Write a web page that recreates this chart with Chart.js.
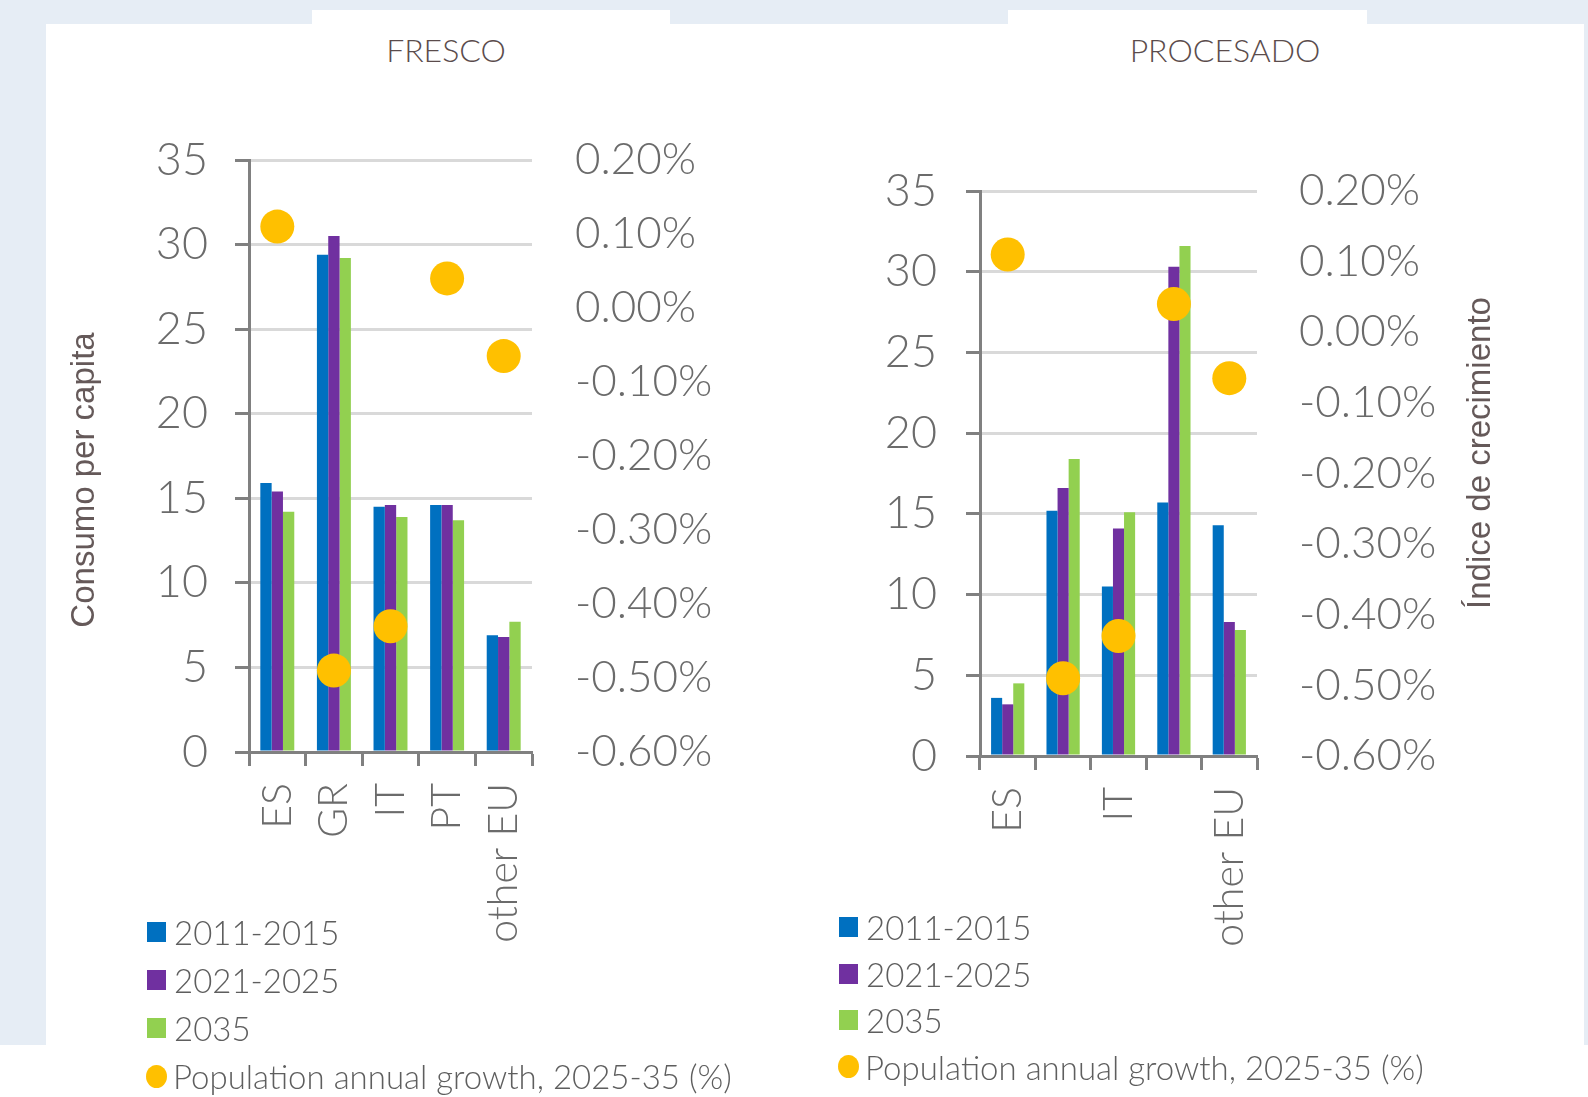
<!DOCTYPE html>
<html>
<head>
<meta charset="utf-8">
<script src="https://cdn.jsdelivr.net/npm/chart.js@4.4.0/dist/chart.umd.min.js"></script>
<style>
  body { margin: 0; width: 1588px; height: 1097px; background: #e6edf5; overflow: hidden; position: relative; font-family: Lato, sans-serif; }
  .white { position: absolute; background: #fff; }
  canvas { position: absolute; top: 0; }
  .chart-title { position: absolute; top: 30px; font: 300 32px Lato, sans-serif; color: #5b4c4c; transform: translateX(-50%); white-space: nowrap; }
  .legend { position: absolute; font: 300 33px Lato, sans-serif; color: #5e5e5e; }
  .legend-item { display: flex; align-items: center; white-space: nowrap; }
  .legend-box { width: 19px; height: 20px; margin-right: 8px; }
  .legend-dot { width: 21px; height: 23px; border-radius: 50%; margin-right: 6px; margin-left: -1px; }
</style>
</head>
<body>
<div class="white" style="left:46px;top:24px;width:1538px;height:1073px"></div>
<div class="white" style="left:0;top:1045px;width:1588px;height:52px"></div>
<div class="white" style="left:312px;top:10px;width:358px;height:14px"></div>
<div class="white" style="left:1008px;top:10px;width:359px;height:14px"></div>

<div class="chart-title" style="left:446px">FRESCO</div>
<div class="chart-title" style="left:1225px">PROCESADO</div>

<canvas id="fresco" width="794" height="1097" style="left:0"></canvas>
<canvas id="procesado" width="794" height="1097" style="left:794px"></canvas>

<div class="legend" id="legend-fresco" style="left:147px;top:908px"></div>
<div class="legend" id="legend-procesado" style="left:839px;top:904px"></div>

<script>
// Data
const countries = ["ES", "GR", "IT", "PT", "other EU"];
const seriesNames = ["2011-2015", "2021-2025", "2035"];
const growthName = "Population annual growth, 2025-35 (%)";

const frescoA = [15.9, 29.4, 14.5, 14.6, 6.9];
const frescoB = [15.4, 30.5, 14.6, 14.6, 6.8];
const frescoC = [14.2, 29.2, 13.9, 13.7, 7.7];

const procesadoA = [3.6, 15.2, 10.5, 15.7, 14.3];
const procesadoB = [3.2, 16.6, 14.1, 30.3, 8.3];
const procesadoC = [4.5, 18.4, 15.1, 31.6, 7.8];

// population growth in %, same for both charts
const growth = [0.11, -0.49, -0.43, 0.04, -0.065];

const barColors = ["#0070c0", "#7030a0", "#92d050"];
const dotColor = "#ffc000";

Chart.defaults.font.family = "Lato, sans-serif";
Chart.defaults.color = "#6b6b6b";

// vertical axis title that reads bottom-to-top on either side
const sideTitle = {
  id: "sideTitle",
  afterDraw(chart, args, opts) {
    const ctx = chart.ctx;
    ctx.save();
    ctx.translate(opts.x, opts.y);
    ctx.rotate(-Math.PI / 2);
    ctx.font = "33px 'Liberation Sans', Arial, sans-serif";
    ctx.fillStyle = "#655959";
    ctx.textAlign = "center";
    ctx.textBaseline = "middle";
    ctx.fillText(opts.text, 0, 0);
    ctx.restore();
  }
};

function makeChart(id, values, geo) {
  const datasets = values.map((v, i) => ({
    type: "bar",
    label: seriesNames[i],
    data: v,
    backgroundColor: barColors[i],
    categoryPercentage: 0.6,
    barPercentage: 1,
    yAxisID: "y",
    order: 1
  }));
  datasets.push({
    type: "line",
    label: growthName,
    data: growth,
    showLine: false,
    pointRadius: 17,
    pointHoverRadius: 17,
    pointBorderWidth: 0,
    pointBackgroundColor: dotColor,
    backgroundColor: dotColor,
    borderColor: dotColor,
    yAxisID: "y2",
    order: 0
  });

  return new Chart(document.getElementById(id), {
    data: { labels: countries, datasets: datasets },
    options: {
      responsive: false,
      animation: false,
      devicePixelRatio: 1,
      layout: { padding: { top: geo.top, left: 0, right: 0, bottom: 0 } },
      plugins: {
        legend: { display: false },
        tooltip: { enabled: false },
        sideTitle: geo.title
      },
      scales: {
        x: {
          afterFit: s => { s.height = geo.xHeight; },
          border: { color: "#808080", width: 3 },
          grid: { drawOnChartArea: false, tickLength: 14, tickColor: "#808080", tickWidth: 3 },
          ticks: {
            autoSkip: false,
            minRotation: 90,
            maxRotation: 90,
            padding: 17,
            font: { size: 41, weight: "300" },
            callback: function(v, i) {
              if (geo.skipOdd && i % 2) return "";
              return this.getLabelForValue(v);
            }
          }
        },
        y: {
          position: "left",
          min: 0,
          max: 35,
          afterFit: s => { s.width = geo.yWidth; },
          border: { color: "#808080", width: 3 },
          grid: { color: "#d9d9d9", lineWidth: 3, tickLength: 14, tickColor: "#808080", tickWidth: 3 },
          ticks: { stepSize: 5, padding: geo.yPad, font: { size: 45, weight: "300" } }
        },
        y2: {
          position: "right",
          min: -0.6,
          max: 0.2,
          afterFit: s => { s.width = geo.y2Width; },
          border: { display: false },
          grid: { display: false, drawTicks: false },
          ticks: {
            stepSize: 0.1,
            padding: geo.y2Pad,
            font: { size: 44, weight: "300" },
            callback: v => (Math.abs(v) < 1e-9 ? 0 : v).toFixed(2) + "%"
          }
        }
      }
    },
    plugins: [sideTitle]
  });
}

function buildLegend(id, chart) {
  const box = document.getElementById(id);
  chart.data.datasets.forEach(ds => {
    const row = document.createElement("div");
    row.className = "legend-item";
    row.style.height = id === "legend-fresco" ? "48px" : "46.5px";
    const mark = document.createElement("span");
    mark.className = ds.type === "line" ? "legend-dot" : "legend-box";
    mark.style.background = ds.backgroundColor;
    row.appendChild(mark);
    row.appendChild(document.createTextNode(ds.label));
    box.appendChild(row);
  });
}

const frescoChart = makeChart("fresco", [frescoA, frescoB, frescoC], {
  top: 160, xHeight: 1097 - 752, yWidth: 249, y2Width: 794 - 532,
  yPad: 27, y2Pad: 43, skipOdd: false,
  title: { text: "Consumo per capita", x: 85, y: 480 }
});

const procesadoChart = makeChart("procesado", [procesadoA, procesadoB, procesadoC], {
  top: 191, xHeight: 1097 - 756, yWidth: 186, y2Width: 794 - 463,
  yPad: 29, y2Pad: 42, skipOdd: true,
  title: { text: "Índice de crecimiento", x: 687, y: 453 }
});

buildLegend("legend-fresco", frescoChart);
buildLegend("legend-procesado", procesadoChart);
</script>
</body>
</html>
